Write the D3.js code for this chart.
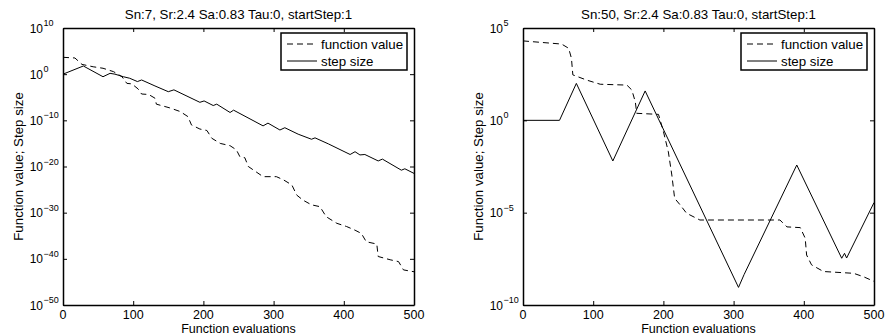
<!DOCTYPE html>
<html>
<head>
<meta charset="utf-8">
<script src="https://cdn.jsdelivr.net/npm/d3@7"></script>
<style>
  html, body { margin: 0; padding: 0; background: #fff; }
  svg { display: block; }
  text { font-family: "Liberation Sans", Arial, Helvetica, sans-serif; fill: #000; }
</style>
</head>
<body>
<svg id="chart" width="885" height="336"></svg>
<script>
// ---------------- DATA ----------------
const xTicks = [0, 100, 200, 300, 400, 500];
const leftYExponents = [10, 0, -10, -20, -30, -40, -50];
const rightYExponents = [5, 0, -5, -10];

const leftTitle = "Sn:7, Sr:2.4 Sa:0.83 Tau:0, startStep:1";
const rightTitle = "Sn:50, Sr:2.4 Sa:0.83 Tau:0, startStep:1";
const xLabel = "Function evaluations";
const yLabel = "Function value; Step size";
const legendLabels = ["function value", "step size"];

// Left panel: step size (solid)
const leftStepEvals = [0, 29, 57, 67, 74, 86, 95, 106, 112, 131, 150, 158, 195, 201, 214, 219, 238, 243, 285, 292, 309, 316, 335, 354, 359, 378, 409, 416, 423, 430, 449, 455, 482, 487, 500];
const leftStepSize = [1e0, 5.9e1, 2.8e-1, 1.5e0, 1e0, 2.8e-1, 1.3e-1, 2.5e-2, 5.5e-2, 2.8e-3, 1.6e-4, 4e-4, 8e-7, 1.6e-6, 1.6e-7, 3.2e-7, 5e-9, 1.6e-8, 6.3e-12, 2.5e-11, 8e-13, 2.5e-12, 1e-13, 8e-15, 1.6e-14, 8e-16, 4e-18, 1.6e-17, 3.2e-18, 4e-18, 1.6e-19, 4e-19, 1.6e-21, 3.2e-21, 3.2e-22];

// Left panel: function value (dashed)
const leftFvalEvals = [0, 17, 27, 43, 57, 72, 84, 91, 98, 107, 112, 122, 131, 133, 152, 167, 178, 183, 195, 205, 212, 224, 238, 247, 252, 259, 264, 285, 304, 314, 326, 333, 342, 354, 366, 375, 390, 404, 416, 425, 432, 447, 449, 466, 478, 485, 500];
const leftFval = [4.5e3, 3.2e3, 1.3e2, 4e1, 1.9e1, 3.5e0, 2.8e-1, 1e-2, 8e-3, 6.3e-4, 5e-5, 4e-5, 6.3e-6, 3.2e-7, 5e-8, 8e-9, 6.3e-10, 1e-11, 1.3e-12, 6.3e-13, 1.3e-14, 1e-15, 3.2e-16, 4e-17, 1.3e-18, 8e-19, 1e-20, 6.3e-23, 6.3e-23, 1.3e-23, 1e-24, 6.3e-27, 5e-28, 5e-29, 2e-29, 1.3e-31, 5e-33, 1e-33, 1.6e-34, 3.2e-35, 5e-37, 1.6e-37, 3.2e-40, 6.3e-41, 2.5e-41, 4e-43, 1.6e-43];

// Right panel: step size (solid)
const rightStepEvals = [0, 52, 76, 128, 174, 307, 315, 390, 454, 458, 461, 500];
const rightStepSize = [1e0, 1e0, 1e2, 6.3e-3, 3.9e1, 9e-10, 4.5e-9, 3.8e-3, 3.4e-8, 6.3e-8, 3.5e-8, 3.5e-5];

// Right panel: function value (dashed)
const rightFvalEvals = [0, 55, 65, 69, 71, 91, 110, 148, 155, 160, 162, 193, 200, 207, 212, 216, 224, 233, 252, 366, 376, 395, 402, 404, 411, 428, 471, 485, 500];
const rightFval = [2e4, 1.35e4, 8e3, 2.3e3, 2.9e2, 1.5e2, 9e1, 8.1e1, 4.4e1, 1e1, 2.4e0, 2.1e0, 2.5e-1, 2e-2, 1.1e-3, 6e-5, 2.6e-5, 9.3e-6, 4e-6, 4e-6, 1.7e-6, 1.55e-6, 4.1e-7, 5.1e-8, 1.5e-8, 6.5e-9, 5.2e-9, 3.4e-9, 1.9e-9];

// ---------------- DRAW ----------------
const svg = d3.select("#chart");
svg.append("rect").attr("width", 885).attr("height", 336).attr("fill", "#fff");

const yTop = 28, yBottom = 305;
const FONT = 13.3;

function panel(opt) {
  const g = svg.append("g");
  const x = d3.scaleLinear().domain([0, 500]).range([opt.x0, opt.x1]);
  const yExps = opt.yExps;
  const y = d3.scaleLog()
    .domain([Math.pow(10, d3.min(yExps)), Math.pow(10, d3.max(yExps))])
    .range([yBottom, yTop]);
  const yTickVals = yExps.map(e => Math.pow(10, e));

  const line = d3.line().x(d => x(d[0])).y(d => y(d[1]));

  const fvalPts = opt.fvalEvals.map((e, i) => [e, opt.fval[i]]);
  const stepPts = opt.stepEvals.map((e, i) => [e, opt.step[i]]);
  g.append("path").datum(fvalPts).attr("d", line)
    .attr("fill", "none").attr("stroke", "#000").attr("stroke-width", 1)
    .attr("stroke-dasharray", "6,4");
  g.append("path").datum(stepPts).attr("d", line)
    .attr("fill", "none").attr("stroke", "#000").attr("stroke-width", 1);

  const axStyle = sel => {
    sel.selectAll("path.domain").attr("stroke", "#000").attr("stroke-width", 1.5);
    sel.selectAll(".tick line").attr("stroke", "#000").attr("stroke-width", 1);
    sel.selectAll(".tick text").remove();
  };
  g.append("g").attr("transform", `translate(0,${yBottom})`)
    .call(d3.axisBottom(x).tickValues(xTicks).tickSizeInner(-4).tickSizeOuter(0)).call(axStyle);
  g.append("g").attr("transform", `translate(0,${yTop})`)
    .call(d3.axisTop(x).tickValues(xTicks).tickSizeInner(-4).tickSizeOuter(0)).call(axStyle);
  g.append("g").attr("transform", `translate(${opt.x0},0)`)
    .call(d3.axisLeft(y).tickValues(yTickVals).tickSizeInner(-4).tickSizeOuter(0)).call(axStyle);
  g.append("g").attr("transform", `translate(${opt.x1},0)`)
    .call(d3.axisRight(y).tickValues(yTickVals).tickSizeInner(-4).tickSizeOuter(0)).call(axStyle);

  g.selectAll("text.xt").data(xTicks).enter().append("text")
    .attr("class", "xt")
    .attr("x", d => x(d)).attr("y", 319)
    .attr("text-anchor", "middle").attr("font-size", 12.5)
    .text(d => d);

  yExps.forEach(e => {
    const yy = y(Math.pow(10, e));
    g.append("text").attr("x", opt.x0 - 20).attr("y", yy + 4.5)
      .attr("text-anchor", "end").attr("font-size", 12).text("10");
    g.append("text").attr("x", opt.x0 - 19.5).attr("y", yy - 2)
      .attr("text-anchor", "start").attr("font-size", 9)
      .text(e < 0 ? "\u2212" + Math.abs(e) : String(e));
  });

  g.append("text").attr("x", (opt.x0 + opt.x1) / 2).attr("y", 19)
    .attr("text-anchor", "middle").attr("font-size", FONT).text(opt.title);
  g.append("text").attr("x", (opt.x0 + opt.x1) / 2).attr("y", 333)
    .attr("text-anchor", "middle").attr("font-size", 12.5).text(xLabel);
  g.append("text")
    .attr("transform", `translate(${opt.yLabelX},${(yTop + yBottom) / 2}) rotate(-90)`)
    .attr("text-anchor", "middle").attr("dy", "0.35em").attr("font-size", FONT).text(yLabel);

  const lx = opt.x1 - 133, ly = yTop + 5, lw = 126, lh = 37;
  const lg = g.append("g");
  lg.append("rect").attr("x", lx).attr("y", ly).attr("width", lw).attr("height", lh)
    .attr("fill", "#fff").attr("stroke", "#000").attr("stroke-width", 1.5);
  const rows = [{dash: "6,4", yy: ly + 11}, {dash: null, yy: ly + 28}];
  rows.forEach((r, i) => {
    const ln = lg.append("line").attr("x1", lx + 6).attr("x2", lx + 36)
      .attr("y1", r.yy).attr("y2", r.yy).attr("stroke", "#000").attr("stroke-width", 1);
    if (r.dash) ln.attr("stroke-dasharray", r.dash);
    lg.append("text").attr("x", lx + 40).attr("y", r.yy).attr("dy", "0.35em")
      .attr("font-size", FONT).text(legendLabels[i]);
  });
}

panel({ x0: 63, x1: 414, yExps: leftYExponents, title: leftTitle, yLabelX: 18,
  stepEvals: leftStepEvals, step: leftStepSize, fvalEvals: leftFvalEvals, fval: leftFval });
panel({ x0: 523, x1: 874, yExps: rightYExponents, title: rightTitle, yLabelX: 478,
  stepEvals: rightStepEvals, step: rightStepSize, fvalEvals: rightFvalEvals, fval: rightFval });
</script>
</body>
</html>
